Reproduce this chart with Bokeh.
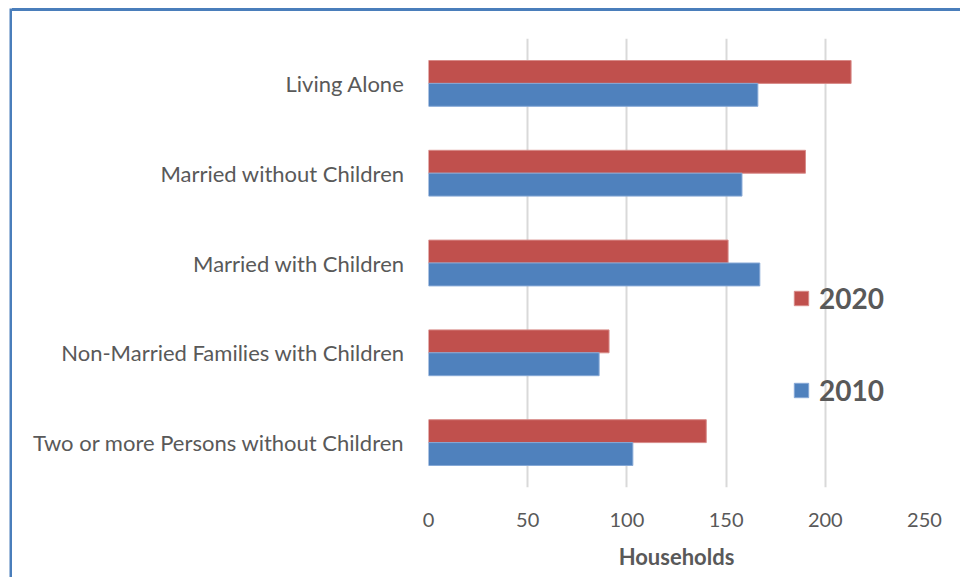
from bokeh.plotting import figure
from bokeh.models import FactorRange, ColumnDataSource, Legend, LegendItem, Spacer
from bokeh.layouts import row, column
from bokeh.transform import dodge
from bokeh.embed import file_html
from bokeh.resources import INLINE

categories = ["Living Alone", "Married without Children", "Married with Children",
              "Non-Married Families with Children", "Two or more Persons without Children"]
values_2020 = [213, 190, 151, 91, 140]
values_2010 = [166, 158, 167, 86, 103]
x_ticks = [0, 50, 100, 150, 200, 250]

FONT = "Lato"
GRAY = "#595959"
EDGE = "#4A7EBB"

src = ColumnDataSource(dict(cat=categories, v2020=values_2020, v2010=values_2010))

p = figure(width=948, height=566, output_backend="svg", toolbar_location=None,
           y_range=FactorRange(factors=list(reversed(categories)), range_padding=0),
           x_range=(0, 250),
           min_border_left=416, min_border_right=36, min_border_top=27, min_border_bottom=90)

r20 = p.hbar(y=dodge("cat", 0.1275, range=p.y_range), right="v2020", left=0, height=0.255,
             source=src, fill_color="#C0504D", line_color="#D88A88", line_width=1)
r10 = p.hbar(y=dodge("cat", -0.1275, range=p.y_range), right="v2010", left=0, height=0.255,
             source=src, fill_color="#4F81BD", line_color="#86A8D6", line_width=1)

p.outline_line_color = None
p.ygrid.grid_line_color = None
p.xgrid.grid_line_color = "#D9D9D9"
p.xgrid.grid_line_width = 2
p.xaxis.ticker = x_ticks
p.xaxis.axis_line_color = None
p.xaxis.major_tick_line_color = None
p.xaxis.minor_tick_line_color = None
p.xaxis.major_label_standoff = 19
p.xaxis.major_label_text_font = FONT
p.xaxis.major_label_text_font_size = "20px"
p.xaxis.major_label_text_color = GRAY
p.xaxis.axis_label = "Households"
p.xaxis.axis_label_text_font = FONT
p.xaxis.axis_label_text_font_size = "22px"
p.xaxis.axis_label_text_font_style = "bold"
p.xaxis.axis_label_text_color = GRAY
p.xaxis.axis_label_standoff = 13

p.yaxis.axis_line_color = None
p.yaxis.major_tick_line_color = None
p.yaxis.minor_tick_line_color = None
p.yaxis.major_label_standoff = 18
p.yaxis.major_label_text_font = FONT
p.yaxis.major_label_text_font_size = "22px"
p.yaxis.major_label_text_color = GRAY

legend = Legend(items=[LegendItem(label="2020", renderers=[r20]),
                       LegendItem(label="2010", renderers=[r10])],
                location=(364, 80), orientation="vertical",
                glyph_width=18, glyph_height=18, label_standoff=9,
                label_text_font=FONT, label_text_font_size="28px",
                label_text_font_style="bold", label_text_color=GRAY,
                spacing=58, padding=0, margin=0,
                background_fill_alpha=0, border_line_color=None)
p.add_layout(legend, "center")


def edge_bar(w, h):
    b = figure(width=w, height=h, output_backend="svg", toolbar_location=None,
               x_axis_location=None, y_axis_location=None,
               min_border=0, min_border_left=0, min_border_right=0,
               min_border_top=0, min_border_bottom=0)
    b.border_fill_color = EDGE
    b.background_fill_color = EDGE
    b.outline_line_color = None
    b.grid.visible = False
    return b


left_edge = edge_bar(3, 569)
top_edge = Spacer(width=948, height=3, styles={"background-color": EDGE})

layout = column(
    Spacer(width=960, height=8),
    row(Spacer(width=9, height=569), left_edge, column(top_edge, p)),
)

open("out.html", "w").write(file_html(layout, INLINE))
